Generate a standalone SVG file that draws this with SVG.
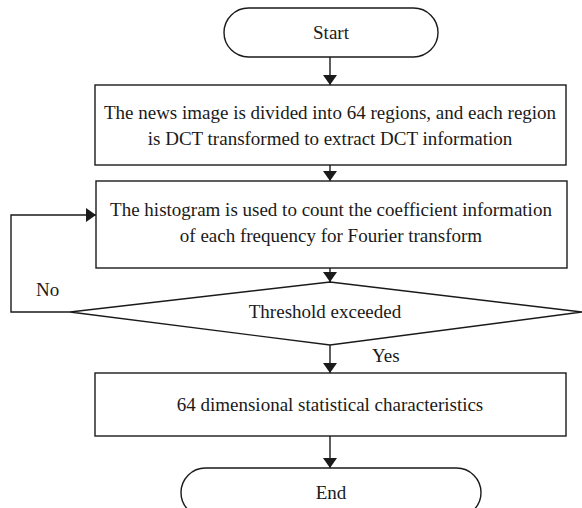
<svg xmlns="http://www.w3.org/2000/svg" width="582" height="508" viewBox="0 0 582 508">
<style>
.s{fill:#fff;stroke:#1a1a1a;stroke-width:1.4}
.c{fill:none;stroke:#1a1a1a;stroke-width:1.4}
text{font-family:"Liberation Serif","Times New Roman",serif;font-size:19px;fill:#1a1a1a}
.m{text-anchor:middle}
</style>
<defs>
<marker id="ah" viewBox="0 0 10 14" refX="10" refY="7" markerWidth="10" markerHeight="14" markerUnits="userSpaceOnUse" orient="auto">
<path d="M0,0 L10,7 L0,14 Z" fill="#1a1a1a"/>
</marker>
</defs>
<g id="connectors">
<line class="c" x1="330" y1="57" x2="330" y2="85" marker-end="url(#ah)"/>
<line class="c" x1="330" y1="165" x2="330" y2="181" marker-end="url(#ah)"/>
<line class="c" x1="330" y1="268" x2="330" y2="282" marker-end="url(#ah)"/>
<line class="c" x1="330" y1="345" x2="330" y2="373" marker-end="url(#ah)"/>
<line class="c" x1="330" y1="436" x2="330" y2="468" marker-end="url(#ah)"/>
<polyline class="c" points="70,312 11,312 11,215 96,215" marker-end="url(#ah)"/>
<text x="36" y="296">No</text>
<text x="372" y="362">Yes</text>
</g>
<g id="start">
<rect class="s" x="224" y="8" width="214" height="49" rx="24.5"/>
<text class="m" x="331" y="39">Start</text>
</g>
<g id="step1">
<rect class="s" x="95" y="85" width="471" height="80"/>
<text class="m" x="330" y="119">The news image is divided into 64 regions, and each region</text>
<text class="m" x="330" y="145">is DCT transformed to extract DCT information</text>
</g>
<g id="step2">
<rect class="s" x="96" y="181" width="471" height="87"/>
<text class="m" x="331" y="216">The histogram is used to count the coefficient information</text>
<text class="m" x="331" y="242">of each frequency for Fourier transform</text>
</g>
<g id="decision">
<polygon class="s" points="70,312 330,282 582,312 330,345"/>
<text class="m" x="325" y="318">Threshold exceeded</text>
</g>
<g id="step3">
<rect class="s" x="95" y="373" width="471" height="63"/>
<text class="m" x="330" y="411">64 dimensional statistical characteristics</text>
</g>
<g id="end">
<rect class="s" x="181" y="468" width="300" height="49" rx="24.5"/>
<text class="m" x="331" y="499">End</text>
</g>
</svg>
